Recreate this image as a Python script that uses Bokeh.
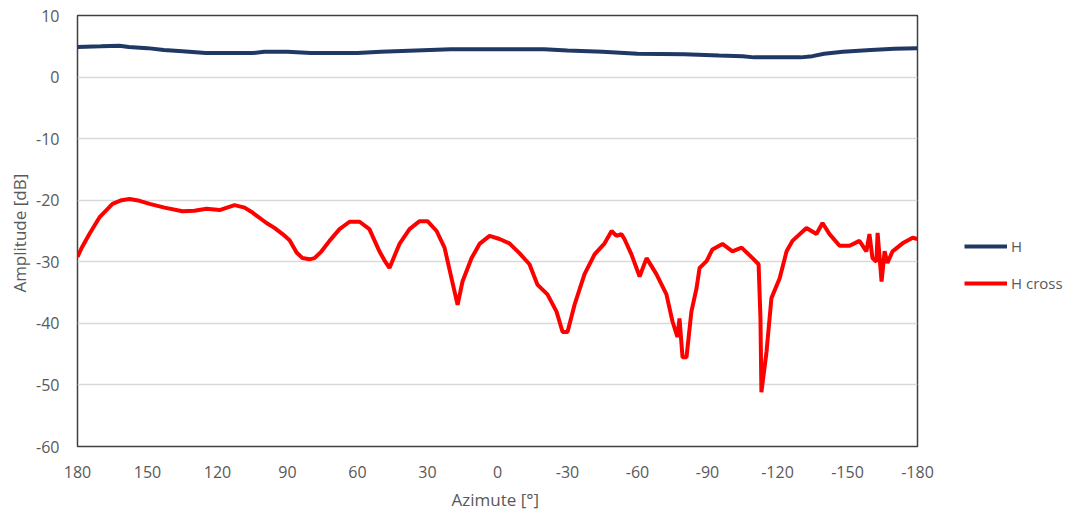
from bokeh.plotting import figure
from bokeh.models import Range1d, FixedTicker, Legend, LegendItem, CustomJSTickFormatter
from bokeh.embed import file_html
from bokeh.resources import INLINE

# ---- data ----
h_az = [180, 170, 162, 158, 150, 143, 135, 125, 115, 105, 100, 90, 80, 70, 60, 50, 35, 20,
        0, -20, -30, -45, -60, -80, -95, -105, -110, -120, -130, -135, -140, -148, -160, -170, -180]
h_db = [4.9, 5.0, 5.1, 4.9, 4.7, 4.4, 4.2, 3.9, 3.9, 3.9, 4.1, 4.1, 3.9, 3.9, 3.9, 4.1, 4.3, 4.5,
        4.5, 4.5, 4.3, 4.1, 3.8, 3.7, 3.5, 3.4, 3.2, 3.2, 3.2, 3.4, 3.8, 4.1, 4.4, 4.6, 4.7]

hx_az = [180, 178.3, 174.9, 170.6, 165, 161.1, 157.7, 153.4, 149.1, 142.7, 135, 129.9, 124.7,
         119.1, 112.7, 108.4, 105, 99, 95.6, 92.1, 89.1, 86.1, 83.6, 80.6, 78.4, 75.4, 72, 67.7,
         63.4, 59.1, 54.9, 50.6, 48.4, 46.3, 42, 37.7, 33.4, 30, 26.1, 22.7, 19.7, 17.1, 15, 11.1,
         7.7, 3.4, -0.9, -5.1, -9.4, -13.7, -17.1, -21.4, -25.3, -27.9, -30, -33, -37.3, -41.6,
         -45.9, -48.9, -51, -53.1, -54.4, -57.4, -60.9, -63.9, -68.1, -72.4, -75, -77.1, -78,
         -79.3, -81, -83.1, -85.3, -86.6, -89.6, -92.1, -96.4, -100.7, -104.6, -109.3, -111.9,
         -112.7, -113.1, -115.3, -117.4, -120.9, -123.9, -126.4, -132.4, -136.7, -139.3, -142.3,
         -146.6, -150.9, -155.1, -158.1, -159.4, -160.7, -162.4, -162.9, -164.6, -165.9, -167.1,
         -169.3, -173.6, -177.9, -180]
hx_db = [-29.2, -27.8, -25.5, -22.8, -20.6, -20.0, -19.8, -20.1, -20.6, -21.2, -21.8, -21.7, -21.4,
         -21.6, -20.8, -21.2, -22.0, -23.7, -24.5, -25.5, -26.5, -28.5, -29.4, -29.6, -29.4, -28.3,
         -26.6, -24.7, -23.5, -23.5, -24.7, -28.3, -29.8, -31.0, -27.1, -24.7, -23.4, -23.4, -25.0,
         -27.7, -32.7, -37.0, -33.2, -29.4, -27.1, -25.8, -26.3, -27.0, -28.6, -30.4, -33.7, -35.3,
         -38.1, -41.4, -41.4, -37.0, -32.0, -28.8, -27.0, -25.0, -25.8, -25.5, -26.3, -28.8, -32.4,
         -29.4, -32.0, -35.3, -39.7, -42.2, -39.2, -45.5, -45.5, -38.1, -34.3, -31.0, -29.9, -28.0,
         -27.1, -28.3, -27.7, -29.4, -30.4, -39.2, -51.2, -44.6, -35.9, -32.7, -28.3, -26.6, -24.5,
         -25.5, -23.7, -25.5, -27.4, -27.4, -26.6, -28.3, -25.5, -29.4, -30.0, -25.3, -33.2, -28.3,
         -30.2, -28.3, -27.0, -26.1, -26.3]

x_ticks = [180, 150, 120, 90, 60, 30, 0, -30, -60, -90, -120, -150, -180]
y_ticks = [-60, -50, -40, -30, -20, -10, 0, 10]

FONT = "Open Sans"
GRAY = "#595959"

p = figure(frame_width=840, frame_height=431, output_backend="svg", toolbar_location=None,
           x_range=Range1d(180, -180), y_range=Range1d(-60, 10),
           min_border_left=77, min_border_top=15, min_border_bottom=60, min_border_right=10)

p.outline_line_color = "#404040"
p.outline_line_width = 1.5
p.xgrid.grid_line_color = None
p.ygrid.grid_line_color = "#D9D9D9"
p.ygrid.grid_line_width = 1.5

fmt = CustomJSTickFormatter(code="return String(tick);")
for ax in (p.xaxis[0], p.yaxis[0]):
    ax.axis_line_color = None
    ax.major_tick_line_color = None
    ax.minor_tick_line_color = None
    ax.formatter = fmt
    ax.major_label_text_font = FONT
    ax.major_label_text_font_size = "16px"
    ax.major_label_text_color = GRAY
    ax.axis_label_text_font = FONT
    ax.axis_label_text_font_size = "17px"
    ax.axis_label_text_font_style = "normal"
    ax.axis_label_text_color = GRAY

p.xaxis.ticker = FixedTicker(ticks=x_ticks)
p.yaxis.ticker = FixedTicker(ticks=y_ticks)
p.xaxis.axis_label = "Azimute  [°]"
p.yaxis.axis_label = "Amplitude  [dB]"
p.xaxis.major_label_standoff = 13
p.yaxis.major_label_standoff = 12
p.xaxis.axis_label_standoff = 7
p.yaxis.axis_label_standoff = 2

r1 = p.line(h_az, h_db, line_color="#1F3864", line_width=4)
r2 = p.line(hx_az, hx_db, line_color="#FF0000", line_width=4)

legend = Legend(items=[LegendItem(label="H", renderers=[r1]),
                       LegendItem(label="H cross", renderers=[r2])],
                location=(47, 153), padding=0, margin=0, spacing=17,
                glyph_width=43, glyph_height=20, label_standoff=4, label_height=20,
                border_line_color=None, background_fill_alpha=0,
                label_text_font=FONT, label_text_font_size="15px", label_text_color=GRAY)
p.add_layout(legend, "right")

open("out.html", "w").write(file_html(p, INLINE))
